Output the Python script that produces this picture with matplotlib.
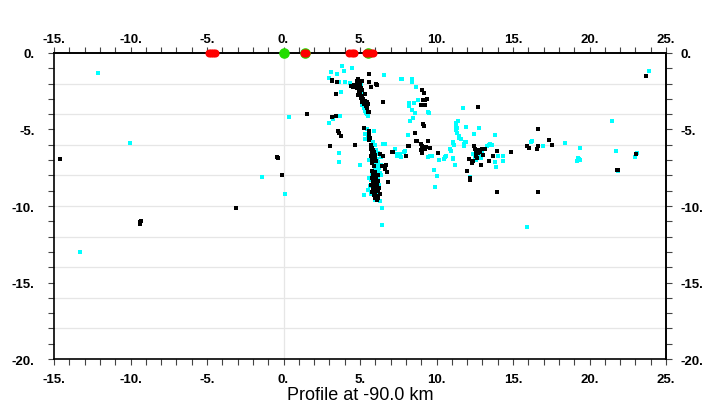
import matplotlib.pyplot as plt
from matplotlib.ticker import MultipleLocator, FuncFormatter

# events, light blue set
cyan_x = [-12.1, -10.05, 0.34, -1.4, 0.1, -13.3,
          23.9, 21.47, 16.94, 18.4, 19.36, 19.25, 19.3, 19.2, 19.35, 21.73, 21.85, 22.97, 23.1,
          15.9, 6.42, 6.46,
          7.72, 8.37, 8.42, 8.64, 8.77, 8.2, 8.5, 8.18, 8.42, 8.6, 9.45, 9.5, 8.27, 8.48, 8.16,
          7.42, 7.45, 7.66, 7.94, 9.45, 9.7, 9.58, 10.16, 9.86, 10.05, 9.92, 10.55, 10.6, 10.5,
          10.9, 10.95, 11.06, 11.06, 11.2, 11.1, 11.15, 11.05, 11.83, 11.85, 11.8, 11.9,
          11.3, 11.32, 11.3, 11.35, 11.38, 11.25, 11.9, 12.47, 12.8, 13.84, 11.71, 11.45, 11.5, 11.6,
          13.4, 13.5, 13.6, 13.3, 13.82, 13.87, 14.37, 14.32, 14.04, 12.19, 16.18, 16.25,
          12.5, 12.6, 12.7, 12.55, 12.8, 12.9, 12.65, 13.0, 12.4,
          3.8, 4.46, 3.95, 3.48, 3.13, 2.97, 3.6, 4.0, 4.35, 6.57, 7.68, 3.76,
          4.75, 4.85, 4.95, 5.05, 5.1, 5.15, 5.2, 5.1, 5.25, 5.35, 5.45, 5.5, 5.4,
          3.7, 3.0, 3.25, 5.9, 5.33, 5.3, 5.5, 5.45, 3.63, 3.63, 5.0, 5.28,
          6.63, 6.5, 6.05, 6.2, 6.35, 7.3, 7.6, 7.85,
          5.75, 5.95, 6.05, 5.85, 6.1, 6.2, 5.9, 6.1, 6.25, 5.95, 6.15, 6.3, 5.8, 6.0, 6.2,
          5.7, 6.05, 5.85, 6.25, 5.65, 6.1, 5.9, 6.2, 5.75, 6.05, 6.15, 5.95, 6.3, 5.55,
          5.6, 6.35, 6.4, 5.6, 6.0, 5.85]
cyan_y = [-1.33, -5.9, -4.16, -8.1, -9.24, -13.03,
          -1.18, -4.44, -6.06, -5.86, -6.19, -6.85, -6.95, -7.05, -7.0, -6.38, -7.72, -6.78, -6.55,
          -11.4, -11.22, -10.15,
          -1.7, -1.67, -1.87, -2.24, -3.07, -3.27, -3.3, -3.48, -3.73, -3.94, -3.86, -3.95, -4.42, -4.27, -5.36,
          -6.6, -6.7, -6.78, -6.38, -6.78, -6.75, -6.75, -6.97, -7.67, -8.02, -8.78, -6.8, -6.7, -6.9,
          -6.3, -6.4, -6.84, -6.95, -7.32, -5.9, -6.0, -5.85, -5.95, -5.85, -6.05, -5.8,
          -4.75, -4.9, -5.05, -5.2, -4.42, -4.6, -4.86, -5.3, -4.9, -5.34, -3.6, -5.4, -5.55, -5.6,
          -6.0, -5.95, -6.02, -6.05, -7.15, -7.47, -7.04, -6.75, -6.75, -8.13, -5.85, -5.75,
          -6.8, -6.9, -6.7, -7.0, -6.6, -6.85, -6.45, -6.5, -6.6,
          -0.83, -0.98, -1.2, -1.37, -1.26, -1.63, -1.92, -1.92, -1.98, -1.42, -1.7, -2.57,
          -2.1, -2.3, -2.2, -2.05, -2.6, -2.9, -3.1, -3.4, -3.6, -3.8, -4.0, -4.1, -3.9,
          -4.1, -4.6, -4.3, -5.08, -5.62, -5.3, -5.5, -4.95, -6.54, -7.15, -7.3, -9.26,
          -5.95, -5.97, -6.35, -6.55, -6.8, -6.3, -6.6, -6.45,
          -6.2, -6.4, -6.6, -6.8, -6.95, -7.1, -7.2, -7.35, -7.5, -7.6, -7.7, -7.85, -7.95, -8.1, -8.2,
          -8.3, -8.4, -8.55, -8.6, -8.7, -8.85, -9.0, -9.1, -9.2, -9.35, -9.5, -9.6, -9.7, -8.95,
          -8.2, -8.0, -7.3, -7.0, -6.0, -5.8]

# events, black set
black_x = [-14.6, 1.56, -0.45, -0.35, -0.1, -3.12, -9.4, -9.3, -9.4,
           23.67, 17.35, 17.53, 21.8, 21.85, 23.07, 16.61, 15.94, 16.05, 16.59, 16.66, 13.93, 16.65,
           12.73, 14.9,
           9.07, 9.2, 9.25, 9.35, 9.1, 9.0, 9.25, 9.15, 9.17, 8.6, 8.64, 8.75, 8.99, 9.05, 9.47,
           9.22, 9.32, 9.25, 9.58, 8.96, 9.07, 8.16, 7.99, 7.11, 10.12,
           12.45, 12.95, 13.17, 13.67, 13.93, 13.45, 12.89, 12.0, 12.2, 12.22, 12.15, 12.4,
           12.6, 12.7, 12.55, 12.65, 12.75, 12.85, 12.5, 13.05, 12.3,
           3.17, 3.2, 3.48, 4.9, 5.6, 5.6, 6.05, 6.1, 5.72, 4.52, 4.67, 4.78, 4.95, 5.0, 5.11,
           5.22, 5.33, 5.44, 5.54, 5.39, 5.48, 5.54, 4.78, 4.9, 5.0, 5.1, 4.85, 4.6, 4.4, 5.05,
           5.15, 4.9, 5.05, 5.3, 5.15, 5.25, 5.6, 6.52, 3.41, 3.2, 3.45, 3.58, 3.65, 3.74, 5.28,
           5.6, 5.62, 5.6, 5.65, 5.58, 3.04, 4.67, 7.07, 7.15, 8.2,
           5.7, 5.75, 5.8, 5.72, 5.85, 5.78, 5.9, 5.82, 5.95, 5.75, 5.88, 6.0, 5.8, 5.92, 6.05,
           6.3, 6.5, 6.45, 6.7, 6.65, 6.75, 6.8,
           5.8, 5.9, 6.0, 5.85, 6.1, 5.95, 5.8, 6.05, 5.9, 6.15, 5.85, 6.0, 5.75, 6.1, 5.95,
           5.85, 6.05, 5.9, 6.15, 5.8, 6.0, 5.9, 6.1, 5.95, 6.2, 6.1, 5.78, 5.9, 6.2, 6.25, 6.3]
black_y = [-6.95, -3.99, -6.8, -6.87, -7.95, -10.13, -11.07, -10.95, -11.2,
           -1.48, -5.69, -5.99, -7.62, -7.67, -6.58, -4.97, -6.06, -6.23, -6.27, -6.06, -9.06, -9.1,
           -3.55, -6.45,
           -2.4, -2.61, -3.07, -3.0, -3.1, -3.38, -3.38, -4.66, -4.79, -5.23, -5.78, -5.72, -5.95, -6.05, -5.73,
           -6.17, -6.17, -6.27, -6.23, -6.34, -6.54, -6.1, -6.75, -6.49, -6.56,
           -6.06, -6.27, -6.27, -6.71, -6.43, -7.04, -7.32, -7.69, -8.2, -8.3, -6.93, -7.04,
           -6.45, -6.55, -6.7, -6.85, -6.35, -6.5, -6.25, -6.65, -7.2,
           -1.76, -1.8, -1.87, -1.7, -1.37, -1.87, -2.03, -2.1, -2.24, -2.2, -2.24, -2.3, -2.46, -2.57, -2.79,
           -3.0, -3.12, -3.18, -3.33, -3.44, -3.61, -3.84, -1.8, -1.9, -2.0, -1.85, -2.05, -2.1, -2.15, -2.3,
           -2.45, -2.75, -2.95, -2.7, -3.2, -3.35, -3.88, -3.22, -2.68, -4.2, -4.1, -5.08, -5.25, -5.45, -4.9,
           -5.1, -5.25, -5.4, -5.55, -5.7, -6.06, -6.01, -6.5, -6.45, -6.06,
           -6.0, -6.1, -6.2, -6.3, -6.35, -6.45, -6.5, -6.6, -6.65, -6.7, -6.8, -6.85, -6.9, -7.0, -7.05,
           -6.6, -6.75, -7.4, -7.35, -7.6, -7.8, -8.4,
           -7.7, -7.8, -7.75, -7.9, -7.95, -8.05, -8.15, -8.2, -8.3, -8.35, -8.45, -8.5, -8.6, -8.65, -8.75,
           -8.85, -8.9, -9.0, -9.05, -9.1, -9.2, -9.3, -9.35, -9.45, -9.5, -9.6, -7.2, -7.4, -8.0, -8.8, -9.2]

# stations along the surface
red_x = [-4.9, -4.75, -4.6, -4.45, 1.32, 1.5, 4.28, 4.45, 4.62, 5.38, 5.55, 5.72, 5.88]
green_x = [0.0, 1.4, 5.55]

fig = plt.figure(figsize=(7.2, 4.14), dpi=100)
ax = fig.add_axes([0.075, 0.1304, 0.85, 0.7392])

for gy in range(-18, 0, 2):
    ax.axhline(gy, color='#e6e6e6', lw=0.9, zorder=0)
ax.axvline(0, color='#e6e6e6', lw=0.9, zorder=0)

ax.scatter(cyan_x, cyan_y, s=5, c='cyan', marker='s', linewidths=0, zorder=2)
ax.scatter(black_x, black_y, s=5, c='black', marker='s', linewidths=0, zorder=3)

ax.plot(green_x, [0] * len(green_x), 'o', color='#22dd00', ms=6.6, mec='#22dd00',
        clip_on=False, zorder=5)
ax.plot(red_x, [0] * len(red_x), 'o', color='red', ms=5.8, mew=0, clip_on=False, zorder=6)

ax.set_xlim(-15, 25)
ax.set_ylim(-20, 0)

fmt = FuncFormatter(lambda v, p: '%d.' % round(v))
top = ax.secondary_xaxis('top')
right = ax.secondary_yaxis('right')

for axis in (ax.xaxis, ax.yaxis, top.xaxis, right.yaxis):
    axis.set_major_locator(MultipleLocator(5))
    axis.set_minor_locator(MultipleLocator(1))
    axis.set_major_formatter(fmt)

for a in (ax, top, right):
    a.tick_params(which='both', direction='out', length=4, width=0.8, color='#444444')
ax.tick_params(axis='x', which='major', labelsize=9.5, pad=6)
ax.tick_params(axis='y', which='major', labelsize=9.5, pad=10)
top.tick_params(axis='x', which='major', labelsize=9.5, pad=2)
right.tick_params(axis='y', which='major', labelsize=9.5, pad=6.5)

for a in (ax, top, right):
    for lab in a.get_xticklabels() + a.get_yticklabels():
        lab.set_fontweight('bold')
        lab.set_family('Liberation Sans')
    for sp in a.spines.values():
        sp.set_linewidth(1.2)
        sp.set_color('black')

ax.set_xlabel('Profile at -90.0 km', fontsize=13, family='Liberation Sans', labelpad=1)

plt.savefig('out.png', dpi=100)
